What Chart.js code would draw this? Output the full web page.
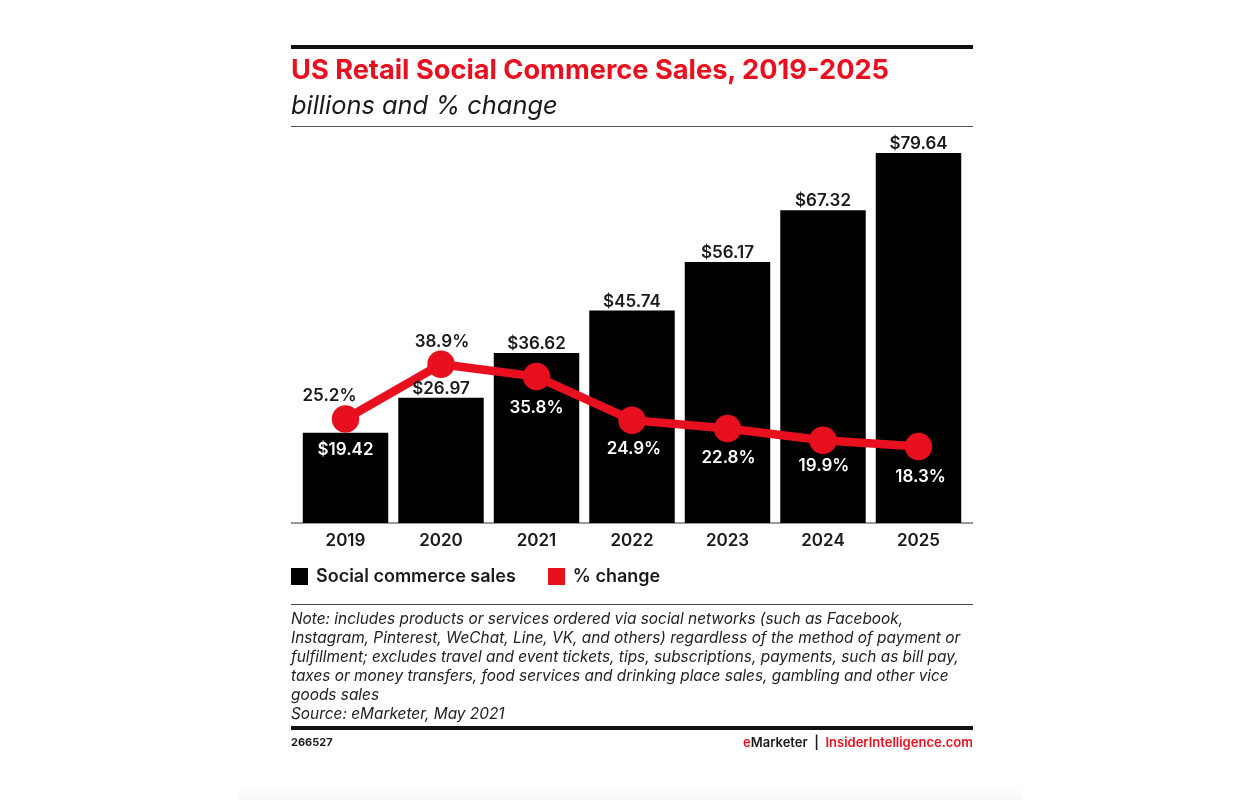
<!DOCTYPE html>
<html>
<head>
<meta charset="utf-8">
<title>US Retail Social Commerce Sales, 2019-2025</title>
<script src="https://cdn.jsdelivr.net/npm/chart.js@4"></script>
<style>
  html, body { margin: 0; padding: 0; background: #fff; }
  body { position: relative; width: 1260px; height: 800px; overflow: hidden; font-family: Inter, sans-serif; color: #1a1a1a; }
  #chart { position: absolute; left: 0; top: 0; }
  .rule { position: absolute; left: 291px; width: 682px; background: #111; }
  .txt { position: absolute; white-space: nowrap; }
  #title { left: 291px; top: 53px; font-size: 27.2px; font-weight: 700; line-height: 34px; color: #e8101e; }
  #subtitle { left: 291px; top: 88px; font-style: italic; font-size: 25.4px; font-weight: 400; line-height: 34px; }
  #legend { position: absolute; left: 291px; top: 567px; display: flex; gap: 32px; font-size: 18px; font-weight: 600; line-height: 18px; }
  #legend div { display: flex; align-items: center; gap: 8px; }
  #legend i { display: block; width: 17px; height: 17px; }
  #note { left: 291px; top: 609px; font-style: italic; font-size: 15.4px; line-height: 19px; color: #222; }
  #code { left: 291px; top: 735px; font-size: 11px; font-weight: 700; line-height: 14px; }
  #brand { right: 287px; top: 735px; font-size: 13px; font-weight: 600; line-height: 14px; }
  #brand span { color: #e8101e; }
  #fade { position: absolute; left: 238px; width: 784px; top: 784px; height: 16px; background: linear-gradient(#fff, #f8f8f8); }
</style>
</head>
<body>
<div id="fade"></div>
<canvas id="chart" width="1260" height="800"></canvas>
<div class="rule" style="top:45px;height:4px"></div>
<div class="txt" id="title">US Retail Social Commerce Sales, 2019-2025</div>
<div class="txt" id="subtitle">billions and % change</div>
<div class="rule" style="top:126px;height:1px;background:#555"></div>
<div id="legend"></div>
<div class="rule" style="top:604px;height:1px;background:#444"></div>
<div class="txt" id="note"></div>
<div class="rule" style="top:726px;height:4px"></div>
<div class="txt" id="code">266527</div>
<div class="txt" id="brand"><span>e</span>Marketer &nbsp;|&nbsp; <span>InsiderIntelligence.com</span></div>
<script>
const years = ['2019', '2020', '2021', '2022', '2023', '2024', '2025'];
const salesValues = [19.42, 26.97, 36.62, 45.74, 56.17, 67.32, 79.64];
const changeValues = [25.2, 38.9, 35.8, 24.9, 22.8, 19.9, 18.3];
const noteLines = [
    'Note: includes products or services ordered via social networks (such as Facebook,',
    'Instagram, Pinterest, WeChat, Line, VK, and others) regardless of the method of payment or',
    'fulfillment; excludes travel and event tickets, tips, subscriptions, payments, such as bill pay,',
    'taxes or money transfers, food services and drinking place sales, gambling and other vice',
    'goods sales',
    'Source: eMarketer, May 2021'
];

document.getElementById('note').innerHTML = noteLines.join('<br>');

const RED = '#e8101e';
const labelFont = '600 17px Inter, sans-serif';

// label nudges, bars first then the % line
const salesLabelDy = [17, -9, -9, -9, -9, -9, -9];
const changeLabelDx = [-16, 1, 0, 2, 1, 1, 2];
const changeLabelDy = [-23, -22, 31, 29, 29, 26, 30];
const changeLabelColor = ['#1a1a1a', '#1a1a1a', '#fff', '#fff', '#fff', '#fff', '#fff'];

const valueLabels = {
    id: 'valueLabels',
    afterDatasetsDraw(chart) {
        const ctx = chart.ctx;
        ctx.save();
        ctx.font = labelFont;
        ctx.textAlign = 'center';
        ctx.textBaseline = 'middle';
        chart.getDatasetMeta(1).data.forEach((bar, i) => {
            ctx.fillStyle = i === 0 ? '#fff' : '#1a1a1a';
            ctx.fillText('$' + salesValues[i].toFixed(2), bar.x, bar.y + salesLabelDy[i]);
        });
        chart.getDatasetMeta(0).data.forEach((pt, i) => {
            ctx.fillStyle = changeLabelColor[i];
            ctx.fillText(changeValues[i].toFixed(1) + '%', pt.x + changeLabelDx[i], pt.y + changeLabelDy[i]);
        });
        ctx.restore();
    }
};

// baseline runs a little past the outer bars
const baseline = {
    id: 'baseline',
    beforeDatasetsDraw(chart) {
        const x = chart.scales.x;
        const ctx = chart.ctx;
        ctx.save();
        ctx.strokeStyle = '#777';
        ctx.lineWidth = 1.5;
        ctx.beginPath();
        ctx.moveTo(291, x.top);
        ctx.lineTo(973, x.top);
        ctx.stroke();
        ctx.restore();
    }
};

const chart = new Chart(document.getElementById('chart').getContext('2d'), {
    data: {
        labels: years,
        datasets: [
            {
                type: 'line',
                label: '% change',
                data: changeValues,
                yAxisID: 'yChange',
                borderColor: RED,
                backgroundColor: RED,
                borderWidth: 8.5,
                pointRadius: 9.5,
                pointHoverRadius: 9.5,
                tension: 0,
                order: 0
            },
            {
                type: 'bar',
                label: 'Social commerce sales',
                data: salesValues,
                yAxisID: 'ySales',
                backgroundColor: '#000',
                barPercentage: 0.895,
                categoryPercentage: 1,
                order: 1
            }
        ]
    },
    options: {
        responsive: false,
        animation: false,
        devicePixelRatio: 1,
        layout: { padding: { left: 291, right: 287, top: 127, bottom: 237 } },
        scales: {
            x: {
                grid: { display: false },
                border: { display: false },
                ticks: { color: '#1a1a1a', font: { family: 'Inter', size: 17, weight: 600 }, padding: 0, maxRotation: 0 },
                afterFit: s => { s.height = 40; }
            },
            ySales: {
                position: 'left',
                min: 0,
                max: 85.25,
                grid: { display: false },
                border: { display: false },
                ticks: { display: false },
                afterFit: s => { s.width = 6.75; }
            },
            yChange: {
                position: 'right',
                min: -0.8,
                max: 98.2,
                grid: { display: false },
                border: { display: false },
                ticks: { display: false },
                afterFit: s => { s.width = 6.75; }
            }
        },
        plugins: {
            tooltip: { enabled: false },
            legend: { display: false }
        }
    },
    plugins: [baseline, valueLabels]
});

// legend entries come from the datasets, bars first
document.getElementById('legend').innerHTML = chart.data.datasets.slice().reverse()
    .map(d => `<div><i style="background:${d.backgroundColor}"></i>${d.label}</div>`)
    .join('');
</script>
</body>
</html>
